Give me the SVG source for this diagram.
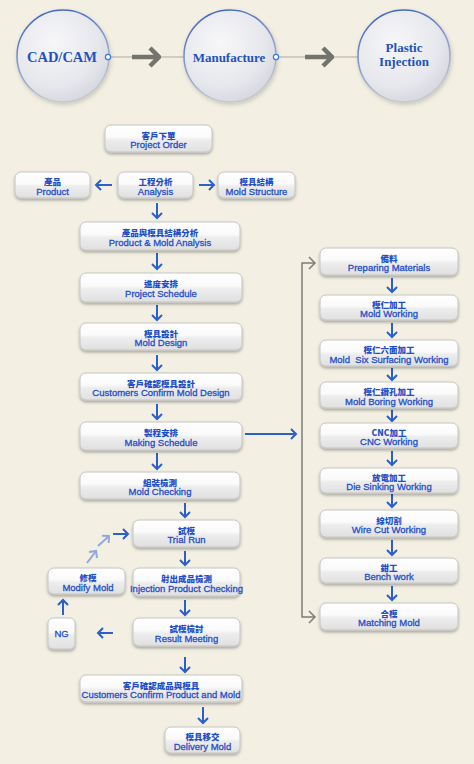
<svg xmlns="http://www.w3.org/2000/svg" width="474" height="764" viewBox="0 0 474 764">
<defs>
<linearGradient id="bx" x1="0" y1="0" x2="0" y2="1">
<stop offset="0" stop-color="#ffffff"/>
<stop offset="0.45" stop-color="#fafafa"/>
<stop offset="0.55" stop-color="#ededed"/>
<stop offset="1" stop-color="#e0e0e0"/>
</linearGradient>
<radialGradient id="cf" cx="0.4" cy="0.35" r="0.7">
<stop offset="0" stop-color="#f7f7f9"/>
<stop offset="0.7" stop-color="#e6e7ec"/>
<stop offset="1" stop-color="#d4d6de"/>
</radialGradient>
<linearGradient id="cs" x1="0" y1="0" x2="0.3" y2="1">
<stop offset="0" stop-color="#2f58c4"/>
<stop offset="0.5" stop-color="#8296cc"/>
<stop offset="1" stop-color="#c4c6cc"/>
</linearGradient>
<filter id="sh" x="-20%" y="-30%" width="140%" height="170%">
<feDropShadow dx="0" dy="2" stdDeviation="1.6" flood-color="#000" flood-opacity="0.3"/>
</filter>
<filter id="csh" x="-20%" y="-20%" width="140%" height="140%">
<feDropShadow dx="1" dy="2" stdDeviation="2" flood-color="#000" flood-opacity="0.18"/>
</filter>
<marker id="ah" viewBox="-7 -7 9 14" refX="0" refY="0" markerWidth="9" markerHeight="14" markerUnits="userSpaceOnUse" orient="auto">
<path d="M-5,-5 L0,0 L-5,5" fill="none" stroke="#2b5fcc" stroke-width="2"/>
</marker>
<marker id="ahl" viewBox="-7 -7 9 14" refX="0" refY="0" markerWidth="9" markerHeight="14" markerUnits="userSpaceOnUse" orient="auto">
<path d="M-5,-5 L0,0 L-5,5" fill="none" stroke="#8eaadc" stroke-width="2"/>
</marker>
<marker id="agb" viewBox="-12 -12 14 24" refX="0" refY="0" markerWidth="14" markerHeight="24" markerUnits="userSpaceOnUse" orient="auto">
<path d="M-9,-9 L0,0 L-9,9" fill="none" stroke="#74746e" stroke-width="4.5"/>
</marker>
</defs>
<style>
.b{fill:url(#bx);stroke:#c4c4c4;stroke-width:1;filter:url(#sh)}
.zh{font-family:"Noto Sans CJK TC","Noto Sans CJK SC",sans-serif;font-weight:900;font-size:8.5px;fill:#1f4fc8;text-anchor:middle}
.en{font-family:"Liberation Sans",Arial,sans-serif;font-size:9.5px;fill:#1f4fc8;stroke:#1f4fc8;stroke-width:0.3;text-anchor:middle}
.ct{font-family:"Liberation Serif","Times New Roman",serif;font-weight:bold;fill:#2452bc;text-anchor:middle}
.c{fill:url(#cf);stroke:url(#cs);stroke-width:1.6;filter:url(#csh)}
.a{fill:none;stroke:#2b5fcc;stroke-width:2;marker-end:url(#ah)}
.al{fill:none;stroke:#8eaadc;stroke-width:2;marker-end:url(#ahl)}
.g{fill:none;stroke:#7c7c78;stroke-width:1.5}
</style>
<rect x="0" y="0" width="474" height="764" fill="#f3f0e3"/>

<g id="top-connectors">
<line x1="108" y1="57" x2="184" y2="57" stroke="#aaa9a2" stroke-width="1"/>
<line x1="276" y1="57" x2="358" y2="57" stroke="#aaa9a2" stroke-width="1"/>
<line x1="132" y1="57" x2="159" y2="57" stroke="#74746e" stroke-width="4.5" marker-end="url(#agb)"/>
<line x1="305" y1="57" x2="332" y2="57" stroke="#74746e" stroke-width="4.5" marker-end="url(#agb)"/>
</g>
<g id="cadcam">
<circle class="c" cx="63" cy="56" r="46"/>
<text class="ct" x="62" y="62" font-size="14.5">CAD/CAM</text>
<circle cx="108" cy="57" r="2.6" fill="#fff" stroke="#3a7ad8" stroke-width="1.2"/>
</g>
<g id="manufacture">
<circle class="c" cx="230" cy="56" r="46"/>
<text class="ct" x="229" y="62" font-size="13">Manufacture</text>
<circle cx="276" cy="57" r="2.6" fill="#fff" stroke="#3a7ad8" stroke-width="1.2"/>
</g>
<g id="plastic">
<circle class="c" cx="404" cy="56" r="46"/>
<text class="ct" x="404" y="52" font-size="13">Plastic</text>
<text class="ct" x="404" y="66" font-size="13">Injection</text>
</g>

<g id="connectors">
<path class="a" d="M112,185 H96"/>
<path class="a" d="M199,185 H214"/>
<path class="a" d="M157,203 V218"/>
<path class="a" d="M157,253 V269"/>
<path class="a" d="M157,305 V320"/>
<path class="a" d="M157,355 V370"/>
<path class="a" d="M157,404 V419"/>
<path class="a" d="M157,453 V469"/>
<path class="a" d="M185,503 V517"/>
<path class="a" d="M185,551 V565"/>
<path class="a" d="M185,600 V615"/>
<path class="a" d="M185,657 V672"/>
<path class="a" d="M203,707 V723"/>
<path class="a" d="M113,633 H98"/>
<path class="a" d="M63,615 V600"/>
<path class="a" d="M113,534 H128"/>
<path class="al" d="M87,563 L96,551"/>
<path class="al" d="M98,546 L109,536"/>
<path class="a" d="M245,434 H296" stroke-width="2.5"/>
<path class="a" d="M392,278 V292"/>
<path class="a" d="M392,323 V337"/>
<path class="a" d="M392,368 V380"/>
<path class="a" d="M392,410 V421"/>
<path class="a" d="M392,451 V465"/>
<path class="a" d="M392,494 V507"/>
<path class="a" d="M392,540 V555"/>
<path class="a" d="M392,586 V600"/>
<path class="g" d="M315,263 H302 V617 H315"/>
<path d="M309,257 L315,263 L309,269" fill="none" stroke="#7c7c78" stroke-width="1.5"/>
<path d="M309,611 L315,617 L309,623" fill="none" stroke="#7c7c78" stroke-width="1.5"/>
</g>

<g id="project-order"><rect class="b" x="105" y="125" width="107" height="27" rx="6"/><text class="zh" x="158.5" y="138.5">客戶下單</text><text class="en" x="158.5" y="148">Project Order</text></g>
<g id="product"><rect class="b" x="15" y="172" width="75" height="26" rx="6"/><text class="zh" x="52.5" y="185">產品</text><text class="en" x="52.5" y="194.5">Product</text></g>
<g id="analysis"><rect class="b" x="118" y="172" width="75" height="26" rx="6"/><text class="zh" x="155.5" y="185">工程分析</text><text class="en" x="155.5" y="194.5">Analysis</text></g>
<g id="mold-structure"><rect class="b" x="218" y="172" width="77" height="26" rx="6"/><text class="zh" x="256.5" y="185">模具結構</text><text class="en" x="256.5" y="194.5">Mold Structure</text></g>
<g id="product-mold-analysis"><rect class="b" x="80" y="222" width="160" height="28" rx="6"/><text class="zh" x="160" y="236">產品與模具結構分析</text><text class="en" x="160" y="245.5">Product &amp; Mold Analysis</text></g>
<g id="project-schedule"><rect class="b" x="80" y="273" width="162" height="29" rx="6"/><text class="zh" x="161" y="287">進度安排</text><text class="en" x="161" y="296.5">Project Schedule</text></g>
<g id="mold-design"><rect class="b" x="80" y="323" width="162" height="27" rx="6"/><text class="zh" x="161" y="336.5">模具設計</text><text class="en" x="161" y="346">Mold Design</text></g>
<g id="confirm-design"><rect class="b" x="80" y="373" width="162" height="27" rx="6"/><text class="zh" x="161" y="386.5">客戶確認模具設計</text><text class="en" x="161" y="396">Customers Confirm Mold Design</text></g>
<g id="making-schedule"><rect class="b" x="80" y="422" width="162" height="28" rx="6"/><text class="zh" x="161" y="436">製程安排</text><text class="en" x="161" y="445.5">Making Schedule</text></g>
<g id="mold-checking"><rect class="b" x="80" y="472" width="160" height="27" rx="6"/><text class="zh" x="160" y="485.5">組裝檢測</text><text class="en" x="160" y="495">Mold Checking</text></g>
<g id="trial-run"><rect class="b" x="133" y="520" width="107" height="27" rx="6"/><text class="zh" x="186.5" y="533.5">試模</text><text class="en" x="186.5" y="543">Trial Run</text></g>
<g id="injection-check"><rect class="b" x="133" y="568" width="107" height="28" rx="6"/><text class="zh" x="186.5" y="582">射出成品檢測</text><text class="en" x="186.5" y="591.5">Injection Product Checking</text></g>
<g id="modify-mold"><rect class="b" x="48" y="568" width="77" height="26" rx="6"/><text class="zh" x="88" y="581">修模</text><text class="en" x="88" y="590.5">Modify Mold</text></g>
<g id="ng"><rect class="b" x="48" y="618" width="27" height="31" rx="5"/><text class="en" x="61.5" y="637">NG</text></g>
<g id="result-meeting"><rect class="b" x="133" y="618" width="107" height="28" rx="6"/><text class="zh" x="186.5" y="632">試模檢討</text><text class="en" x="186.5" y="641.5">Result Meeting</text></g>
<g id="confirm-product"><rect class="b" x="80" y="675" width="162" height="27" rx="6"/><text class="zh" x="161" y="688.5">客戶確認成品與模具</text><text class="en" x="161" y="698">Customers Confirm Product and Mold</text></g>
<g id="delivery"><rect class="b" x="165" y="727" width="75" height="26" rx="6"/><text class="zh" x="202.5" y="740">模具移交</text><text class="en" x="202.5" y="749.5">Delivery Mold</text></g>

<g id="preparing"><rect class="b" x="320" y="248" width="138" height="27" rx="6"/><text class="zh" x="389" y="261.5">備料</text><text class="en" x="389" y="271">Preparing Materials</text></g>
<g id="mold-working"><rect class="b" x="320" y="295" width="138" height="25" rx="6"/><text class="zh" x="389" y="307.5">模仁加工</text><text class="en" x="389" y="317">Mold Working</text></g>
<g id="six-surfacing"><rect class="b" x="320" y="340" width="138" height="26" rx="6"/><text class="zh" x="389" y="353">模仁六面加工</text><text class="en" x="389" y="362.5" xml:space="preserve">Mold  Six Surfacing Working</text></g>
<g id="boring"><rect class="b" x="320" y="382" width="138" height="26" rx="6"/><text class="zh" x="389" y="395">模仁鑽孔加工</text><text class="en" x="389" y="404.5">Mold Boring Working</text></g>
<g id="cnc"><rect class="b" x="320" y="423" width="138" height="25" rx="6"/><text class="zh" x="389" y="435.5">CNC加工</text><text class="en" x="389" y="445">CNC Working</text></g>
<g id="die-sinking"><rect class="b" x="320" y="468" width="138" height="25" rx="6"/><text class="zh" x="389" y="480.5">放電加工</text><text class="en" x="389" y="490">Die Sinking Working</text></g>
<g id="wire-cut"><rect class="b" x="320" y="510" width="138" height="27" rx="6"/><text class="zh" x="389" y="523.5">線切割</text><text class="en" x="389" y="533">Wire Cut Working</text></g>
<g id="bench"><rect class="b" x="320" y="558" width="138" height="25" rx="6"/><text class="zh" x="389" y="570.5">鉗工</text><text class="en" x="389" y="580">Bench work</text></g>
<g id="matching"><rect class="b" x="320" y="603" width="138" height="27" rx="6"/><text class="zh" x="389" y="616.5">合模</text><text class="en" x="389" y="626">Matching Mold</text></g>
</svg>
